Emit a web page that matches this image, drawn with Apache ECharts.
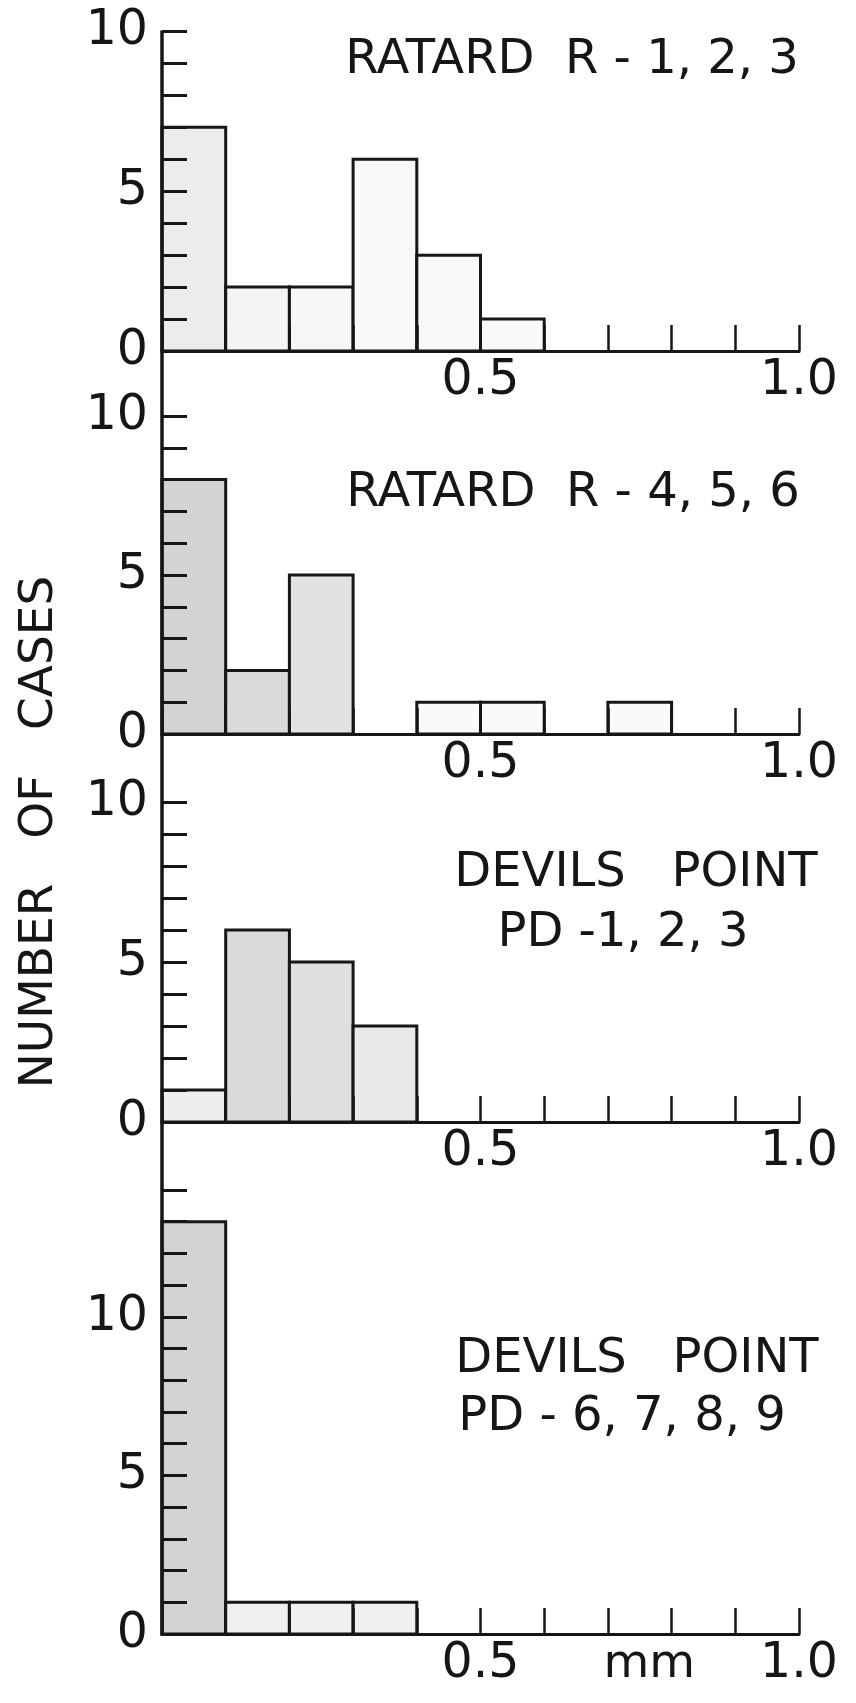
<!DOCTYPE html>
<html>
<head>
<meta charset="utf-8">
<script src="https://cdn.jsdelivr.net/npm/echarts@6/dist/echarts.min.js"></script>
<style>
  html, body { margin: 0; padding: 0; background: #ffffff; }
  #main { width: 856px; height: 1703px; }
</style>
</head>
<body>
<div id="main"></div>
<script>
// Size classes, mm (0.1 mm bins)
const binEdges = [0.0, 0.1, 0.2, 0.3, 0.4, 0.5, 0.6, 0.7, 0.8, 0.9, 1.0];

// Number of cases in each size class
const ratardR123   = [7, 2, 2, 6, 3, 1, 0, 0, 0, 0];
const ratardR456   = [8, 2, 5, 0, 1, 1, 0, 1, 0, 0];
const devilsPD123  = [1, 6, 5, 3, 0, 0, 0, 0, 0, 0];
const devilsPD6789 = [13, 1, 1, 1, 0, 0, 0, 0, 0, 0];

const panelTitles = [
  ['RATARD  R - 1, 2, 3'],
  ['RATARD  R - 4, 5, 6'],
  ['DEVILS   POINT', 'PD -1, 2, 3'],
  ['DEVILS   POINT', 'PD - 6, 7, 8, 9']
];
const yTickLabels = [0, 5, 10];
const xTickLabels = ['0.5', '1.0'];
const yAxisMax = [10, 10, 10, 14];
const unitLabel = 'mm';
const yAxisName = 'NUMBER   OF   CASES';

// Stipple shading of each bar (printed screen tone)
const barShades = [
  ['#ececec', '#f4f4f4', '#f6f6f6', '#f8f8f8', '#f8f8f8', '#fafafa'],
  ['#d3d3d3', '#dadada', '#e2e2e2', '#fff', '#fafafa', '#fafafa', '#fff', '#fafafa'],
  ['#eeeeee', '#dadada', '#dfdfdf', '#e8e8e8'],
  ['#d2d2d2', '#f0f0f0', '#f0f0f0', '#f0f0f0']
];

const panels = [ratardR123, ratardR456, devilsPD123, devilsPD6789];
const INK = '#161616';
const FONT = '"DejaVu Sans", Roboto, sans-serif';

const gridBoxes = [
  { left: 162, width: 637, top: 31.5, height: 319.5 },
  { left: 162, width: 637, top: 416,  height: 318 },
  { left: 162, width: 637, top: 802,  height: 320 },
  { left: 162, width: 637, top: 1190, height: 444 }
];

const chart = echarts.init(document.getElementById('main'), null, { renderer: 'canvas' });

function binData(counts) {
  return counts.map((c, i) => [binEdges[i], binEdges[i + 1], c]);
}

const option = {
  backgroundColor: '#ffffff',
  animation: false,
  grid: gridBoxes.map(b => Object.assign({ containLabel: false }, b)),
  xAxis: panels.map((_, i) => ({
    gridIndex: i,
    type: 'value',
    min: 0,
    max: 1,
    interval: 0.1,
    z: 4,
    axisLine: { show: true, lineStyle: { color: INK, width: 3 } },
    axisTick: { show: true, inside: true, length: 26, lineStyle: { color: INK, width: 2.5 } },
    splitLine: { show: false },
    axisLabel: {
      show: true,
      margin: 6,
      color: INK,
      fontFamily: FONT,
      fontSize: 49,
      formatter: v => {
        if (Math.abs(v - 0.5) < 1e-6) return xTickLabels[0];
        if (Math.abs(v - 1.0) < 1e-6) return xTickLabels[1];
        return '';
      }
    }
  })),
  yAxis: panels.map((_, i) => ({
    gridIndex: i,
    type: 'value',
    min: 0,
    max: yAxisMax[i],
    interval: 1,
    z: 4,
    axisLine: { show: false },
    axisTick: { show: true, inside: true, length: 25, lineStyle: { color: INK, width: 3 } },
    splitLine: { show: false },
    axisLabel: {
      show: true,
      margin: 14,
      color: INK,
      fontFamily: FONT,
      fontSize: 49,
      formatter: v => (yTickLabels.indexOf(v) >= 0 ? String(v) : '')
    }
  })),
  series: panels.map((counts, i) => ({
    type: 'custom',
    xAxisIndex: i,
    yAxisIndex: i,
    z: 2,
    data: binData(counts),
    renderItem: (params, api) => {
      const n = api.value(2);
      if (!n) return null;
      const topLeft = api.coord([api.value(0), n]);
      const bottomRight = api.coord([api.value(1), 0]);
      return {
        type: 'rect',
        shape: {
          x: topLeft[0],
          y: topLeft[1],
          width: bottomRight[0] - topLeft[0],
          height: bottomRight[1] - topLeft[1]
        },
        style: {
          fill: barShades[i][params.dataIndex] || '#ffffff',
          stroke: INK,
          lineWidth: 3
        }
      };
    }
  }))
};

chart.setOption(option);

// Continuous vertical axis through all four panels, plus text
const axisTop = chart.convertToPixel({ gridIndex: 0 }, [0, yAxisMax[0]]);
const axisBottom = chart.convertToPixel({ gridIndex: 3 }, [0, 0]);
const unitPos = chart.convertToPixel({ gridIndex: 3 }, [0.765, 0]);

const titleSpots = [
  [{ x: 572, y: 61 }],
  [{ x: 573, y: 494 }],
  [{ x: 636, y: 874 }, { x: 623, y: 934 }],
  [{ x: 637, y: 1360 }, { x: 622, y: 1418 }]
];

const graphics = [
  {
    type: 'line',
    z: 10,
    shape: { x1: axisTop[0], y1: axisTop[1] - 1, x2: axisBottom[0], y2: axisBottom[1] + 1.5 },
    style: { stroke: INK, lineWidth: 3.5 }
  },
  {
    type: 'text',
    z: 10,
    x: 40,
    y: 832,
    rotation: Math.PI / 2,
    style: {
      text: yAxisName,
      fill: INK,
      font: '47px ' + FONT,
      textAlign: 'center',
      textVerticalAlign: 'middle'
    }
  },
  {
    type: 'text',
    z: 10,
    x: unitPos[0],
    y: unitPos[1] + 31,
    style: {
      text: unitLabel,
      fill: INK,
      font: '47px ' + FONT,
      textAlign: 'center',
      textVerticalAlign: 'middle'
    }
  }
];

panelTitles.forEach((lines, i) => {
  lines.forEach((t, j) => {
    graphics.push({
      type: 'text',
      z: 10,
      x: titleSpots[i][j].x,
      y: titleSpots[i][j].y,
      style: {
        text: t,
        fill: INK,
        font: '48px ' + FONT,
        textAlign: 'center',
        textVerticalAlign: 'middle'
      }
    });
  });
});

chart.setOption({ graphic: graphics });
</script>
</body>
</html>
